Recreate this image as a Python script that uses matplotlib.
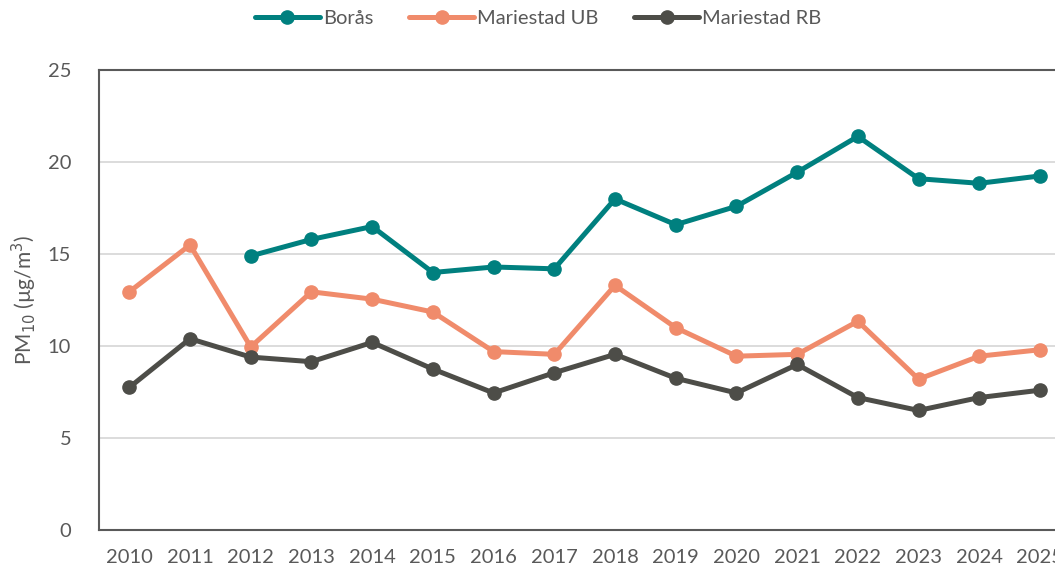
import matplotlib
matplotlib.use('Agg')
import matplotlib.pyplot as plt
import numpy as np

# 数据
years = ['2010', '2011', '2012', '2013', '2014', '2015', '2016', '2017',
         '2018', '2019', '2020', '2021', '2022', '2023', '2024', '2025']
boras = [np.nan, np.nan, 14.9, 15.8, 16.5, 14.0, 14.3, 14.2,
         18.0, 16.6, 17.6, 19.45, 21.4, 19.1, 18.85, 19.25]
mariestad_ub = [12.95, 15.5, 9.95, 12.95, 12.55, 11.85, 9.7, 9.55,
                13.3, 11.0, 9.45, 9.55, 11.35, 8.2, 9.45, 9.8]
mariestad_rb = [7.75, 10.4, 9.4, 9.15, 10.2, 8.75, 7.45, 8.55,
                9.55, 8.25, 7.45, 9.0, 7.2, 6.5, 7.2, 7.6]

plt.rcParams['font.family'] = ['Lato', 'DejaVu Sans']

fig = plt.figure(figsize=(10.55, 5.74), dpi=100)
ax = fig.add_axes([0.0938, 0.0767, 0.915, 0.801])

x = np.arange(len(years))
series = [
    (boras, '#00807F', 'Borås'),
    (mariestad_ub, '#F08B6B', 'Mariestad UB'),
    (mariestad_rb, '#4D4D48', 'Mariestad RB'),
]
for vals, color, label in series:
    ax.plot(x, vals, color=color, linewidth=3.6, marker='o', markersize=9.5,
            label=label, solid_capstyle='round', zorder=3)

ax.set_ylim(0, 25)
ax.set_yticks([0, 5, 10, 15, 20, 25])
ax.set_xlim(-0.5, 15.4)
ax.set_xticks(x)
ax.set_xticklabels(years)

ax.grid(axis='y', color='#D9D9D9', linewidth=1.3)
ax.set_axisbelow(True)
for side in ['left', 'bottom', 'top', 'right']:
    ax.spines[side].set_color('#595959')
    ax.spines[side].set_linewidth(1.5)
ax.tick_params(axis='both', length=0, labelsize=14.5, colors='#595959')
ax.tick_params(axis='x', pad=14)
ax.tick_params(axis='y', pad=20)

ax.set_ylabel('PM$_{10}$ (µg/m$^3$)', fontsize=15, color='#595959', labelpad=6)

ax.legend(loc='center', bbox_to_anchor=(0.455, 1.113), ncol=3, frameon=False,
          fontsize=14.5, labelcolor='#595959', handlelength=3.2, columnspacing=1.8,
          handletextpad=0.15)

fig.savefig('out.png', dpi=100)
